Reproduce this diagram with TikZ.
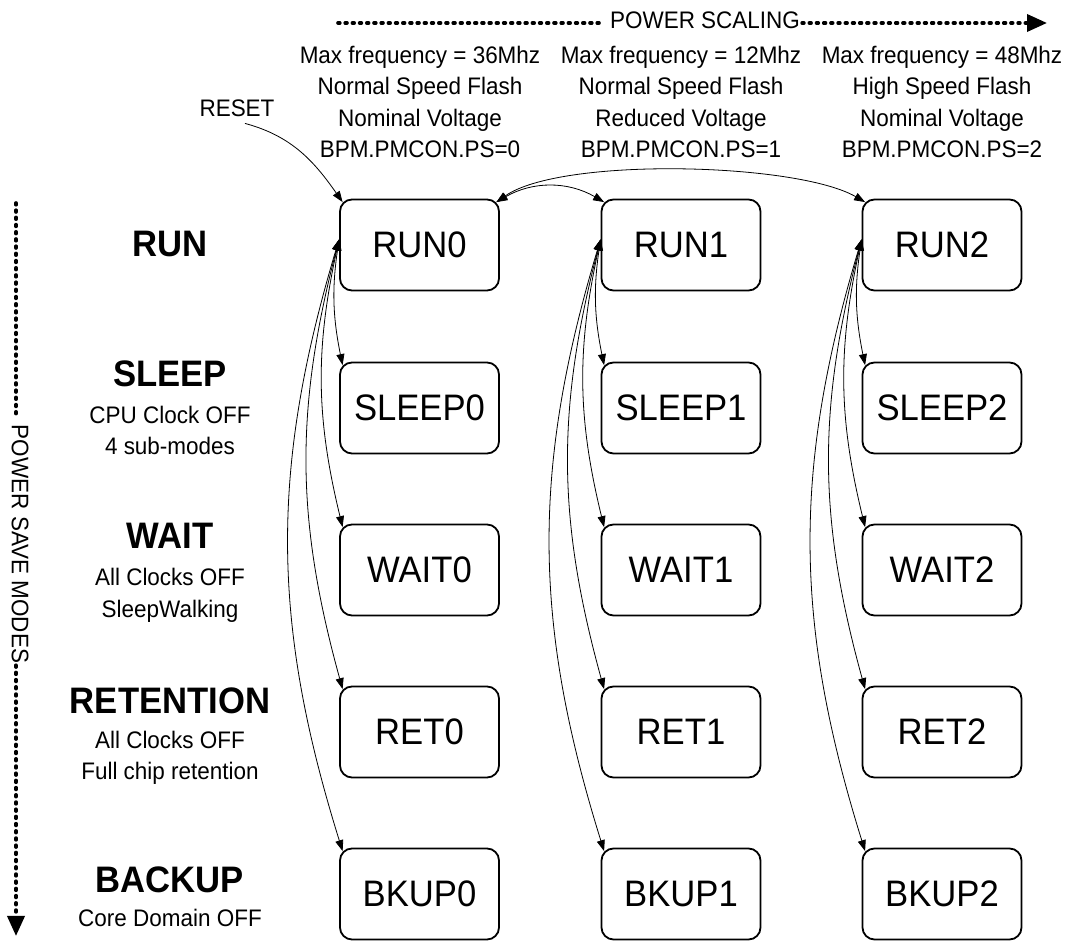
\documentclass[tikz,border=0pt]{standalone}
\usepackage{fontspec}
\setmainfont{Liberation Sans}[FakeStretch=0.94]
\usetikzlibrary{arrows.meta}
\tikzset{
	modebox/.style={draw, rounded corners=12bp, line width=1.8bp, minimum width=159bp, minimum height=91bp, inner sep=0pt, font=\fontsize{37}{40}\selectfont},
	modetitle/.style={anchor=base, font=\bfseries\fontsize{37}{40}\selectfont},
	modenote/.style={align=center, inner sep=2bp, font=\fontsize{24}{31.5}\selectfont},
	modelink/.style={{Triangle[length=11bp,width=8bp]}-{Triangle[length=11bp,width=8bp]}, line width=0.8bp},
	dotline/.style={line width=3.6bp, line cap=round, dash pattern=on 1.8bp off 5.4bp},
	bigtip/.style={-{Triangle[length=20bp,width=17bp]}}
}
\begin{document}
\begin{tikzpicture}[x=1bp , y=1bp]
	\useasboundingbox (0 , 0) rectangle (1065 , 941);
	% axes
	\node[modenote] (scal) at (705 , 921) {POWER SCALING};
	\coordinate (scal0) at (338 , 918);\coordinate (scal1) at (1047 , 918);
	\draw[dotline , shorten >=6bp] (scal0) -- (scal0 -| scal.west);
	\draw[dotline , bigtip] (scal0 -| scal.east) -- (scal1);
	\node[modenote , rotate=-90] (save) at (20 , 397) {POWER SAVE MODES};
	\coordinate (save0) at (16 , 738);\coordinate (save1) at (16 , 5);
	\draw[dotline , shorten >=6bp] (save0) -- (save0 |- save.west);
	\draw[dotline , bigtip] (save0 |- save.east) -- (save1);
	% column headers
	\node[modenote] (hd0) at (420 , 839) {Max frequency = 36Mhz\\Normal Speed Flash\\Nominal Voltage\\BPM.PMCON.PS=0};
	\node[modenote] (hd1) at (681 , 839) {Max frequency = 12Mhz\\Normal Speed Flash\\Reduced Voltage\\BPM.PMCON.PS=1};
	\node[modenote] (hd2) at (942 , 839) {Max frequency = 48Mhz\\High Speed Flash\\Nominal Voltage\\BPM.PMCON.PS=2};
	\node[modenote , anchor=base] (reset) at (237 , 824) {RESET};
	% row titles
	\node[modetitle] (trun) at (170 , 684) {RUN};
	\node[modetitle] (tsleep) at (170 , 554) {SLEEP};
	\node[modenote] (nsleep) at (170 , 510.8) {CPU Clock OFF\\4 sub-modes};
	\node[modetitle] (twait) at (170 , 392) {WAIT};
	\node[modenote] (nwait) at (170 , 345.8) {All Clocks OFF\\SleepWalking};
	\node[modetitle] (tret) at (170 , 227) {RETENTION};
	\node[modenote] (nret) at (170 , 183.3) {All Clocks OFF\\Full chip retention};
	\node[modetitle] (tbkup) at (170 , 48) {BACKUP};
	\node[modenote , anchor=base] (nbkup) at (170 , 14) {Core Domain OFF};
	% states
	\node[modebox] (run0) at (419.5 , 696) {RUN0};
	\node[modebox] (sleep0) at (419.5 , 533) {SLEEP0};
	\node[modebox] (wait0) at (419.5 , 371) {WAIT0};
	\node[modebox] (ret0) at (419.5 , 209) {RET0};
	\node[modebox] (bkup0) at (419.5 , 47) {BKUP0};
	\node[modebox] (run1) at (681 , 696) {RUN1};
	\node[modebox] (sleep1) at (681 , 533) {SLEEP1};
	\node[modebox] (wait1) at (681 , 371) {WAIT1};
	\node[modebox] (ret1) at (681 , 209) {RET1};
	\node[modebox] (bkup1) at (681 , 47) {BKUP1};
	\node[modebox] (run2) at (942 , 696) {RUN2};
	\node[modebox] (sleep2) at (942 , 533) {SLEEP2};
	\node[modebox] (wait2) at (942 , 371) {WAIT2};
	\node[modebox] (ret2) at (942 , 209) {RET2};
	\node[modebox] (bkup2) at (942 , 47) {BKUP2};
	% transitions
	\draw[-{Triangle[length=11bp,width=8bp]} , line width=0.8bp] ([xshift=8bp , yshift=-4bp]reset.south) to[out=-15 , in=125] ([xshift=3.5bp , yshift=-3.5bp]run0.north west);
	\draw[modelink] ([xshift=-3.5bp , yshift=-3.5bp]run0.north east) to[bend left=30] ([xshift=3.5bp , yshift=-3.5bp]run1.north west);
	\draw[modelink] ([xshift=-3.5bp , yshift=-3.5bp]run0.north east) to[out=35 , in=150 , looseness=0.55] ([xshift=3.5bp , yshift=-3.5bp]run2.north west);
	\draw[modelink] (run0.176) to[bend right=10] ([xshift=3.5bp , yshift=-3.5bp]sleep0.north west);
	\draw[modelink] (run0.176) to[bend right=13] ([xshift=3.5bp , yshift=-3.5bp]wait0.north west);
	\draw[modelink] (run0.176) to[bend right=15] ([xshift=3.5bp , yshift=-3.5bp]ret0.north west);
	\draw[modelink] (run0.176) to[bend right=17] ([xshift=3.5bp , yshift=-3.5bp]bkup0.north west);
	\draw[modelink] (run1.176) to[bend right=10] ([xshift=3.5bp , yshift=-3.5bp]sleep1.north west);
	\draw[modelink] (run1.176) to[bend right=13] ([xshift=3.5bp , yshift=-3.5bp]wait1.north west);
	\draw[modelink] (run1.176) to[bend right=15] ([xshift=3.5bp , yshift=-3.5bp]ret1.north west);
	\draw[modelink] (run1.176) to[bend right=17] ([xshift=3.5bp , yshift=-3.5bp]bkup1.north west);
	\draw[modelink] (run2.176) to[bend right=10] ([xshift=3.5bp , yshift=-3.5bp]sleep2.north west);
	\draw[modelink] (run2.176) to[bend right=13] ([xshift=3.5bp , yshift=-3.5bp]wait2.north west);
	\draw[modelink] (run2.176) to[bend right=15] ([xshift=3.5bp , yshift=-3.5bp]ret2.north west);
	\draw[modelink] (run2.176) to[bend right=17] ([xshift=3.5bp , yshift=-3.5bp]bkup2.north west);
\end{tikzpicture}
\end{document}
